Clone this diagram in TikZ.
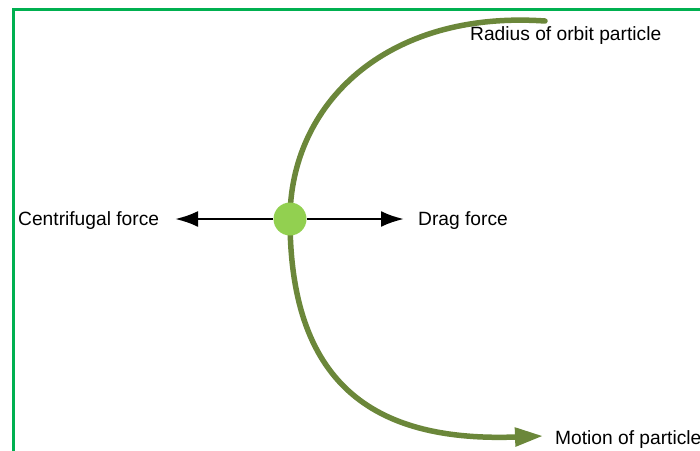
\documentclass[tikz,border=0pt]{standalone}
\usepackage{fontspec}
\setmainfont{Liberation Sans}
\usetikzlibrary{arrows.meta,positioning}

\definecolor{framegreen}{RGB}{0,176,80}
\definecolor{orbitgreen}{RGB}{107,135,58}
\definecolor{dotgreen}{RGB}{146,208,80}

\begin{document}
\begin{tikzpicture}[
        x=1pt,y=-1pt,
        lbl/.style={
          anchor=base west,
          inner sep=0pt,
          font=\fontsize{19.2}{22}\selectfont
          },
        orbit/.style={
          draw=orbitgreen,
          line width=5.5pt,
          line cap=round
          },
        force/.style={
          draw=black,
          line width=2.8pt,
          -{Latex[length=23pt,width=16pt]}
          },
        particle/.style={
          circle,
          fill=dotgreen,
          draw=none,
          minimum size=33pt,
          inner sep=0pt
          },
        >=latex
        ]
        \useasboundingbox (0,0) rectangle (700,450);
        \clip (0,0) rectangle (700,450);
        % frame
        \draw[framegreen, line width=3.5pt] (13.5,460) -- (13.5,9.5) -- (710,9.5);
        % orbit of the particle
        \coordinate (p) at (290,219);
        \coordinate (orbittop) at (545,21);
        \coordinate (orbitend) at (543,436);
        \draw[orbit] (orbittop) .. controls (385,10) and (290,105) .. (p);
        \draw[orbit, line cap=butt, -{Triangle[length=28pt,width=18pt]}]
          (p) .. controls (290,390) and (380,442) .. (orbitend);
        \node[particle] (particle) at (p) {};
        % forces
        \coordinate (cfend) at (175,219);
        \coordinate (dragend) at (404,219);
        \draw[force] (particle) -- (cfend);
        \draw[force] (particle) -- (dragend);
        % labels
        \node[lbl] (cflabel) at (18,225.7) {Centrifugal force};
        \node[lbl] (draglabel) at (418,225.7) {Drag force};
        \node[lbl] (radiuslabel) at (470,40.7) {Radius of orbit particle};
        \node[lbl] (motionlabel) at (555,444) {Motion of particle};
\end{tikzpicture}
\end{document}
